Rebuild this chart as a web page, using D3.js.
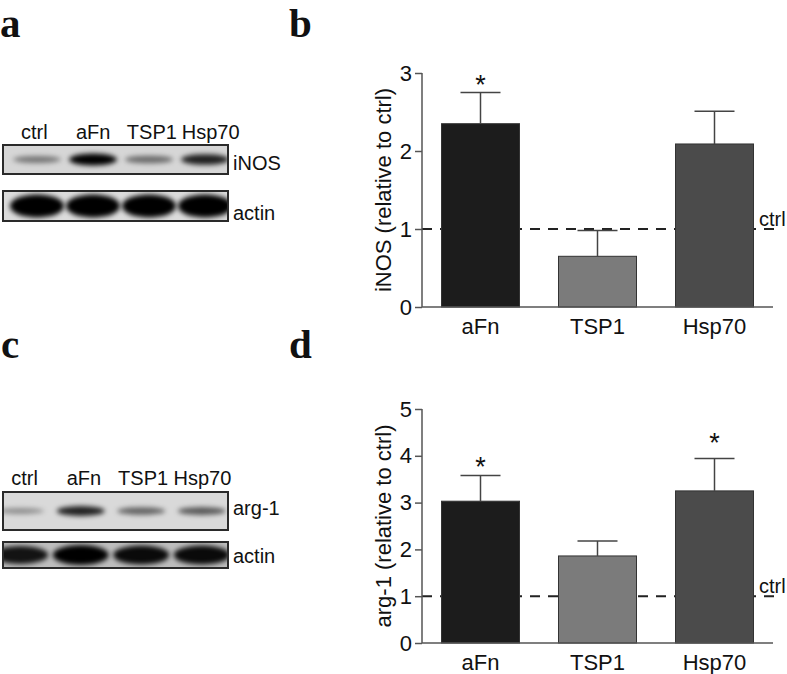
<!DOCTYPE html>
<html>
<head>
<meta charset="utf-8">
<script src="https://cdn.jsdelivr.net/npm/d3@7"></script>
<style>
  body { margin: 0; background: #fff; }
  text { font-family: "Liberation Sans", Arial, sans-serif; fill: #111; }
  .panel { font-family: "Liberation Serif", "Times New Roman", serif; font-weight: bold; font-size: 41px; }
</style>
</head>
<body>
<svg id="fig" width="787" height="674"></svg>
<script>
// blot lanes and band strength (0..1, read by eye)
const lanes = ["ctrl", "aFn", "TSP1", "Hsp70"];
const inosBand = [0.45, 1.0, 0.5, 0.85];
const actinBandA = [1, 1, 1, 1];
const arg1Band = [0.35, 0.85, 0.55, 0.6];
const actinBandC = [0.9, 1, 0.95, 0.95];

// bar charts
const groups = ["aFn", "TSP1", "Hsp70"];
const inosMean = [2.35, 0.65, 2.09];
const inosErr = [0.40, 0.33, 0.42];
const inosStar = [2.92, null, null];
const inosTicks = [0, 1, 2, 3];

const arg1Mean = [3.03, 1.86, 3.25];
const arg1Err = [0.55, 0.32, 0.69];
const arg1Star = [3.88, null, 4.41];
const arg1Ticks = [0, 1, 2, 3, 4, 5];

const barColors = ["#1c1c1c", "#7b7b7b", "#4b4b4b"];

const svg = d3.select("#fig");

const defs = svg.append("defs");
defs.append("filter").attr("id", "blur").attr("x", "-50%").attr("y", "-100%")
    .attr("width", "200%").attr("height", "300%")
    .append("feGaussianBlur").attr("stdDeviation", 2.4);

// panel letters
[["a", 0, 37], ["b", 289, 37], ["c", 1, 358], ["d", 289, 358]].forEach(function (p) {
    svg.append("text").attr("class", "panel").attr("x", p[1]).attr("y", p[2]).text(p[0]);
});

let clipId = 0;
function blotStrip(y0, h, bg, values, laneRange, bandW, thick, label, labelY) {
    const x = d3.scaleBand().domain(lanes).range(laneRange);
    const id = "clip" + (clipId++);
    defs.append("clipPath").attr("id", id)
        .append("rect").attr("x", 3).attr("y", y0).attr("width", 225).attr("height", h);

    const g = svg.append("g").attr("clip-path", "url(#" + id + ")");
    g.append("rect").attr("x", 3).attr("y", y0).attr("width", 225).attr("height", h).attr("fill", bg);

    g.selectAll("ellipse")
        .data(values)
        .enter().append("ellipse")
        .attr("cx", function (d, i) { return x(lanes[i]) + x.bandwidth() / 2; })
        .attr("cy", y0 + h / 2)
        .attr("rx", bandW)
        .attr("ry", function (d) { return thick(d); })
        .attr("fill", "#000")
        .attr("fill-opacity", function (d) { return d; })
        .attr("filter", "url(#blur)");

    svg.append("rect").attr("x", 3).attr("y", y0).attr("width", 225).attr("height", h)
        .attr("fill", "none").attr("stroke", "#2a2a2a").attr("stroke-width", 2);

    svg.append("text").attr("x", 233).attr("y", labelY)
        .style("font-size", "20px").text(label);
}

function laneLabels(y, range) {
    const x = d3.scaleBand().domain(lanes).range(range);
    svg.selectAll(null)
        .data(lanes)
        .enter().append("text")
        .attr("x", function (d) { return x(d) + x.bandwidth() / 2; })
        .attr("y", y)
        .attr("text-anchor", "middle")
        .style("font-size", "20px")
        .text(function (d) { return d; });
}

// panel a
laneLabels(139, [5, 240]);
blotStrip(145, 29, "#d6d6d6", inosBand, [9, 233], 24, function (d) { return 1.5 + 4.5 * d; }, "iNOS", 170);
blotStrip(191, 30, "#dcdcdc", actinBandA, [9, 233], 27, function (d) { return 11.5 * d; }, "actin", 220);

// panel c
laneLabels(485, [-5, 232]);
blotStrip(492, 38, "#d9d9d9", arg1Band, [-10, 232], 24, function (d) { return 1.5 + 4 * d; }, "arg-1", 515);
blotStrip(542, 26, "#bdbdbd", actinBandC, [-10, 232], 28, function (d) { return 10 * d; }, "actin", 563);

function barChart(top, bottom, maxV, ticks, mean, err, star, yLabel) {
    const x = d3.scaleBand().domain(groups).range([422, 773])
        .paddingInner(1 / 3).paddingOuter(1 / 6);
    const y = d3.scaleLinear().domain([0, maxV]).range([bottom, top]);
    const g = svg.append("g");

    // ctrl reference line
    g.append("line")
        .attr("x1", 422).attr("x2", 778)
        .attr("y1", y(1)).attr("y2", y(1))
        .attr("stroke", "#222").attr("stroke-width", 2)
        .attr("stroke-dasharray", "10,8");

    const bars = g.selectAll(".bar")
        .data(mean)
        .enter().append("g").attr("class", "bar");

    bars.append("rect")
        .attr("x", function (d, i) { return x(groups[i]); })
        .attr("y", function (d) { return y(d); })
        .attr("width", x.bandwidth())
        .attr("height", function (d) { return bottom - y(d); })
        .attr("fill", function (d, i) { return barColors[i]; })
        .attr("stroke", "#333").attr("stroke-width", 1);

    // error bars, upper only
    bars.append("line")
        .attr("x1", function (d, i) { return x(groups[i]) + x.bandwidth() / 2; })
        .attr("x2", function (d, i) { return x(groups[i]) + x.bandwidth() / 2; })
        .attr("y1", function (d) { return y(d); })
        .attr("y2", function (d, i) { return y(d + err[i]); })
        .attr("stroke", "#444").attr("stroke-width", 1.5);
    bars.append("line")
        .attr("x1", function (d, i) { return x(groups[i]) + x.bandwidth() / 2 - 20; })
        .attr("x2", function (d, i) { return x(groups[i]) + x.bandwidth() / 2 + 20; })
        .attr("y1", function (d, i) { return y(d + err[i]); })
        .attr("y2", function (d, i) { return y(d + err[i]); })
        .attr("stroke", "#444").attr("stroke-width", 1.5);

    star.forEach(function (s, i) {
        if (s === null) return;
        g.append("text")
            .attr("x", x(groups[i]) + x.bandwidth() / 2)
            .attr("y", y(s) + 15)
            .attr("text-anchor", "middle")
            .style("font-size", "27px")
            .text("*");
    });

    // axes
    const yAxis = g.append("g")
        .attr("transform", "translate(422,0)")
        .call(d3.axisLeft(y).tickValues(ticks).tickSize(7).tickPadding(3).tickFormat(d3.format("d")));
    yAxis.selectAll("text").style("font-size", "22px").attr("fill", "#111");
    yAxis.selectAll("line").attr("stroke", "#555").attr("stroke-width", 1.5);
    yAxis.select(".domain").attr("stroke", "#555").attr("stroke-width", 1.5)
        .attr("d", "M0," + y(maxV) + "V" + bottom);

    const xAxis = g.append("g")
        .attr("transform", "translate(0," + bottom + ")")
        .call(d3.axisBottom(x).tickSize(0).tickPadding(11));
    xAxis.selectAll("text").style("font-size", "22px").attr("fill", "#111");
    xAxis.select(".domain").attr("stroke", "#555").attr("stroke-width", 1.5)
        .attr("d", "M422,0H773");

    g.append("text")
        .attr("x", 759).attr("y", y(1) - 3)
        .style("font-size", "20px")
        .text("ctrl");

    g.append("text")
        .attr("transform", "translate(391," + (top + bottom) / 2 + ") rotate(-90)")
        .attr("text-anchor", "middle")
        .style("font-size", "22px")
        .text(yLabel);
}

barChart(73, 307, 3, inosTicks, inosMean, inosErr, inosStar, "iNOS (relative to ctrl)");
barChart(409, 643, 5, arg1Ticks, arg1Mean, arg1Err, arg1Star, "arg-1 (relative to ctrl)");
</script>
</body>
</html>
